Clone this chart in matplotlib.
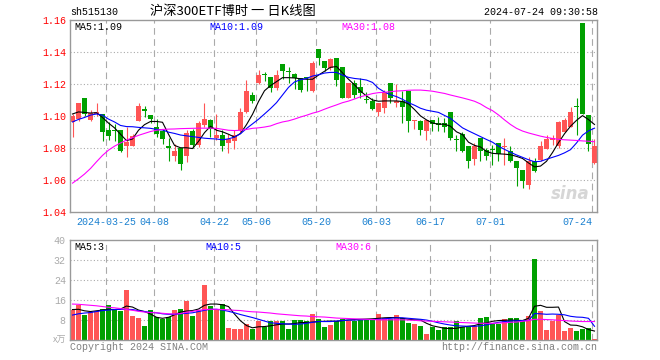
import numpy as np
import matplotlib
matplotlib.use('Agg')
import matplotlib.pyplot as plt

# trading days shown (MM-DD, 2024)
dates = ['03-15', '03-18', '03-19', '03-20', '03-21', '03-22', '03-25', '03-26', '03-27', '03-28',
         '03-29', '04-01', '04-02', '04-03', '04-08', '04-09', '04-10', '04-11', '04-12', '04-15',
         '04-16', '04-17', '04-18', '04-19', '04-22', '04-23', '04-24', '04-25', '04-26', '04-29',
         '04-30', '05-06', '05-07', '05-08', '05-09', '05-10', '05-13', '05-14', '05-15', '05-16',
         '05-17', '05-20', '05-21', '05-22', '05-23', '05-24', '05-27', '05-28', '05-29', '05-30',
         '05-31', '06-03', '06-04', '06-05', '06-06', '06-07', '06-11', '06-12', '06-13', '06-14',
         '06-17', '06-18', '06-19', '06-20', '06-21', '06-24', '06-25', '06-26', '06-27', '06-28',
         '07-01', '07-02', '07-03', '07-04', '07-05', '07-08', '07-09', '07-10', '07-11', '07-12',
         '07-15', '07-16', '07-17', '07-18', '07-19', '07-22', '07-23', '07-24']

opens = [1.096, 1.098, 1.111, 1.0975, 1.1012, 1.101, 1.091, 1.091, 1.091, 1.081,
         1.081, 1.097, 1.1043, 1.1006, 1.093, 1.0905, 1.081, 1.0746, 1.080, 1.0746,
         1.0906, 1.0815, 1.094, 1.0975, 1.086, 1.0881, 1.0829, 1.084, 1.091, 1.1025,
         1.113, 1.1204, 1.1262, 1.1246, 1.1173, 1.1325, 1.1281, 1.126, 1.1235, 1.1242,
         1.1156, 1.1423, 1.1344, 1.1298, 1.1365, 1.1308, 1.1115, 1.1204, 1.1183, 1.1102,
         1.1094, 1.1027, 1.1048, 1.1204, 1.1079, 1.1095, 1.1156, 1.0965, 1.0965, 1.0906,
         1.0973, 1.0954, 1.0954, 1.1023, 1.0856, 1.0885, 1.0812, 1.0729, 1.086, 1.0787,
         1.079, 1.0829, 1.0805, 1.0777, 1.0715, 1.0663, 1.0565, 1.0715, 1.0725, 1.0794,
         1.085, 1.0808, 1.0902, 1.0933, 1.106, 1.158, 1.1006, 1.0704]
highs = [1.101, 1.108, 1.1115, 1.104, 1.108, 1.101, 1.096, 1.095, 1.091, 1.093,
         1.0885, 1.108, 1.106, 1.1006, 1.098, 1.092, 1.086, 1.0825, 1.080, 1.091,
         1.092, 1.0965, 1.108, 1.098, 1.101, 1.091, 1.0885, 1.091, 1.105, 1.1225,
         1.1152, 1.129, 1.1278, 1.1246, 1.129, 1.1325, 1.1308, 1.1267, 1.1235, 1.1246,
         1.1344, 1.1423, 1.1344, 1.1365, 1.1365, 1.1308, 1.1208, 1.1225, 1.1235, 1.1152,
         1.1115, 1.108, 1.1162, 1.1204, 1.120, 1.1156, 1.1156, 1.0975, 1.0975, 1.0975,
         1.0973, 1.0996, 1.0985, 1.1023, 1.0881, 1.0896, 1.0812, 1.0829, 1.086, 1.0798,
         1.0819, 1.0829, 1.086, 1.0808, 1.0715, 1.0663, 1.074, 1.0735, 1.0844, 1.0877,
         1.0881, 1.0969, 1.0985, 1.1058, 1.111, 1.158, 1.1006, 1.0854]
lows = [1.087, 1.097, 1.100, 1.097, 1.100, 1.084, 1.085, 1.084, 1.0775, 1.074,
        1.081, 1.097, 1.099, 1.0956, 1.087, 1.0825, 1.072, 1.072, 1.066, 1.071,
        1.080, 1.0805, 1.093, 1.087, 1.085, 1.0777, 1.0765, 1.0795, 1.090, 1.102,
        1.108, 1.120, 1.1222, 1.115, 1.1165, 1.123, 1.1204, 1.117, 1.1152, 1.1156,
        1.115, 1.1319, 1.128, 1.129, 1.119, 1.111, 1.111, 1.111, 1.1115, 1.108,
        1.104, 1.1002, 1.1017, 1.1083, 1.1058, 1.0954, 1.0902, 1.0919, 1.0877, 1.085,
        1.0906, 1.0906, 1.0898, 1.085, 1.0777, 1.0773, 1.0673, 1.069, 1.0719, 1.0721,
        1.0694, 1.0715, 1.069, 1.0712, 1.0558, 1.0548, 1.054, 1.0646, 1.0715, 1.079,
        1.0815, 1.080, 1.0898, 1.093, 1.088, 1.101, 1.078, 1.070]
closes = [1.100, 1.108, 1.101, 1.102, 1.1025, 1.0898, 1.0875, 1.0905, 1.078, 1.0835,
          1.0875, 1.1065, 1.1028, 1.098, 1.0885, 1.0857, 1.0797, 1.0777, 1.0695, 1.089,
          1.0815, 1.0958, 1.098, 1.0919, 1.088, 1.0808, 1.0854, 1.088, 1.1025, 1.1158,
          1.1095, 1.1256, 1.1258, 1.1173, 1.1256, 1.128, 1.1277, 1.1235, 1.1162, 1.1238,
          1.1333, 1.1365, 1.1302, 1.1354, 1.1225, 1.1115, 1.1204, 1.1131, 1.1142, 1.1098,
          1.1044, 1.1079, 1.1152, 1.1115, 1.1095, 1.1058, 1.0965, 1.0973, 1.0912, 1.0973,
          1.0948, 1.0944, 1.0933, 1.086, 1.0846, 1.0781, 1.0715, 1.0812, 1.0781, 1.0746,
          1.0785, 1.076, 1.081, 1.0715, 1.0673, 1.0594, 1.0715, 1.0656, 1.0812, 1.0856,
          1.086, 1.096, 1.0973, 1.1027, 1.1055, 1.101, 1.0825, 1.0812]

ma5 = [1.1012, 1.1025, 1.1022, 1.1018, 1.102, 1.099, 1.0955, 1.0925, 1.0885, 1.0845,
       1.0855, 1.091, 1.0945, 1.0965, 1.0965, 1.096, 1.0885, 1.0815, 1.080, 1.080,
       1.0795, 1.084, 1.0895, 1.0935, 1.091, 1.090, 1.0885, 1.0867, 1.089, 1.0945,
       1.101, 1.109, 1.1158, 1.119, 1.1215, 1.124, 1.124, 1.1238, 1.1233, 1.123,
       1.123, 1.1256, 1.128, 1.1305, 1.131, 1.127, 1.123, 1.1195, 1.1155, 1.1125,
       1.110, 1.1092, 1.1094, 1.1094, 1.1094, 1.109, 1.1075, 1.104, 1.100, 1.0975,
       1.0955, 1.0948, 1.0948, 1.0935, 1.090, 1.0883, 1.0835, 1.0815, 1.0805, 1.0777,
       1.0765, 1.0762, 1.076, 1.0756, 1.0746, 1.0733, 1.0705, 1.068, 1.0685, 1.0715,
       1.077, 1.0832, 1.0888, 1.0935, 1.0972, 1.1002, 1.0977, 1.0946]
ma10 = [1.0962, 1.0978, 1.099, 1.1005, 1.1012, 1.1005, 1.098, 1.0962, 1.094, 1.0933,
        1.0932, 1.0928, 1.0925, 1.0922, 1.0915, 1.0912, 1.0898, 1.089, 1.088, 1.0875,
        1.087, 1.0865, 1.086, 1.0857, 1.0855, 1.085, 1.0856, 1.0867, 1.0888, 1.0921,
        1.095, 1.0979, 1.1012, 1.1046, 1.1083, 1.1131, 1.1179, 1.1213, 1.1227, 1.1235,
        1.125, 1.1258, 1.1269, 1.1273, 1.1273, 1.1256, 1.1242, 1.1235, 1.1231, 1.1225,
        1.121, 1.1173, 1.115, 1.1133, 1.1121, 1.1104, 1.1083, 1.1067, 1.1048, 1.1036,
        1.1029, 1.1022, 1.1003, 1.0984, 1.0955, 1.0925, 1.0906, 1.0888, 1.087, 1.0852,
        1.0835, 1.081, 1.079, 1.0772, 1.0755, 1.074, 1.0725, 1.0712, 1.0715, 1.0728,
        1.074, 1.0752, 1.0768, 1.0788, 1.083, 1.0879, 1.0906, 1.0923]
ma30 = [1.0578, 1.0605, 1.0635, 1.067, 1.0712, 1.0752, 1.0785, 1.081, 1.083, 1.0848,
        1.0863, 1.0878, 1.089, 1.0902, 1.091, 1.0915, 1.0917, 1.0918, 1.092, 1.0921,
        1.0922, 1.0923, 1.0923, 1.0923, 1.0922, 1.0916, 1.091, 1.0908, 1.091, 1.0915,
        1.0922, 1.0925, 1.093, 1.0937, 1.0951, 1.0962, 1.0969, 1.098, 1.0993, 1.1004,
        1.1017, 1.1027, 1.1042, 1.1056, 1.1069, 1.1083, 1.1093, 1.1106, 1.112, 1.113,
        1.114, 1.1146, 1.1148, 1.1152, 1.1156, 1.1158, 1.1161, 1.1162, 1.1162, 1.1159,
        1.1155, 1.1148, 1.1141, 1.1131, 1.1122, 1.1113, 1.1103, 1.1092, 1.1075, 1.1052,
        1.1033, 1.1006, 1.0975, 1.0946, 1.0922, 1.0905, 1.0893, 1.0883, 1.0873, 1.0865,
        1.0858, 1.0853, 1.085, 1.0848, 1.0846, 1.0843, 1.0841, 1.0838]

# volume, in 万
volumes = [12.1, 14.1, 10.1, 11.5, 11.7, 12.4, 14.1, 12.4, 11.9, 20.1,
           9.7, 9.1, 5.7, 12.1, 9.2, 8.4, 9.2, 12.1, 12.5, 15.7,
           9.7, 12.1, 22.1, 13.7, 12.7, 14.5, 5.1, 4.5, 4.5, 6.4,
           4.5, 7.9, 5.5, 7.9, 7.9, 7.7, 4.5, 8.1, 8.1, 7.7,
           10.5, 8.4, 5.5, 6.1, 7.9, 8.4, 7.9, 7.9, 8.4, 8.1,
           8.1, 10.5, 8.8, 8.4, 10.1, 8.8, 6.8, 6.5, 5.7, 2.5,
           5.5, 4.1, 5.2, 5.2, 7.7, 5.2, 5.7, 5.7, 9.1, 9.5,
           6.5, 6.4, 8.5, 9.1, 9.1, 7.7, 9.7, 32.5, 11.9, 4.1,
           7.9, 10.1, 3.7, 4.8, 3.7, 4.5, 4.8, 0.5]
vma5 = [12.3, 12.4, 11.8, 11.5, 11.8, 12.1, 12.4, 12.3, 12.5, 13.7,
        13.3, 12.1, 11.5, 10.5, 9.2, 8.8, 9.2, 10.2, 11.3, 11.7,
        11.9, 12.5, 14.0, 14.5, 14.5, 14.2, 13.5, 10.5, 7.8, 5.9,
        5.0, 5.4, 5.5, 5.8, 6.2, 6.5, 6.5, 6.7, 7.1, 7.1,
        7.3, 7.5, 7.6, 7.7, 7.6, 7.9, 8.1, 8.3, 8.4, 8.5,
        8.6, 8.8, 9.0, 9.1, 9.1, 8.8, 8.4, 8.2, 8.1, 6.8,
        5.8, 5.3, 4.8, 4.7, 4.8, 5.3, 5.6, 5.9, 6.6, 7.0,
        7.6, 7.9, 8.0, 8.1, 8.0, 7.9, 8.8, 13.6, 14.0, 13.2,
        13.2, 13.3, 7.5, 6.1, 6.0, 5.4, 4.3, 3.7]
vma10 = [10.1, 10.6, 10.9, 11.1, 11.5, 11.9, 12.1, 12.3, 12.4, 12.4,
         12.3, 11.8, 11.5, 11.2, 11.0, 10.6, 10.4, 10.4, 10.6, 10.8,
         11.0, 11.5, 12.0, 12.4, 12.4, 12.1, 11.6, 11.0, 10.3, 9.7,
         9.1, 8.4, 7.7, 7.0, 6.8, 6.6, 6.5, 6.4, 6.5, 6.8,
         7.2, 7.5, 7.5, 7.5, 7.7, 7.9, 8.1, 8.1, 8.2, 8.3,
         8.3, 8.4, 8.6, 8.8, 9.0, 9.0, 8.8, 8.6, 8.4, 8.1,
         7.6, 7.0, 6.5, 6.1, 5.8, 5.7, 5.6, 5.6, 5.8, 6.2,
         6.7, 7.2, 7.5, 7.7, 7.8, 7.9, 7.9, 10.7, 10.6, 10.4,
         10.5, 10.4, 10.2, 9.6, 9.3, 9.2, 8.8, 5.6]
vma30 = [14.5, 14.4, 14.2, 14.0, 13.8, 13.5, 13.2, 13.0, 12.7, 12.3,
         12.0, 11.6, 11.3, 11.1, 11.0, 10.8, 10.6, 10.5, 10.7, 11.2,
         11.6, 12.0, 12.3, 12.4, 12.4, 12.3, 12.2, 12.0, 11.9, 11.6,
         11.4, 11.3, 11.1, 10.9, 10.6, 10.4, 10.2, 10.0, 9.8, 9.7,
         9.5, 9.4, 9.3, 9.1, 8.9, 8.8, 8.7, 8.6, 8.5, 8.4,
         8.3, 8.2, 8.2, 8.2, 8.2, 8.2, 8.1, 8.0, 7.8, 7.7,
         7.6, 7.5, 7.4, 7.3, 7.2, 7.1, 7.0, 6.9, 6.8, 6.8,
         6.8, 6.9, 7.0, 7.2, 7.3, 7.6, 7.9, 8.4, 8.4, 8.3,
         8.2, 8.0, 7.9, 7.7, 7.6, 7.5, 7.5, 7.5]

tick_dates = ['03-25', '04-08', '04-22', '05-06', '05-20', '06-03', '06-17', '07-01', '07-24']
tick_labels = ['2024-03-25', '04-08', '04-22', '05-06', '05-20', '06-03', '06-17', '07-01', '07-24']
price_ticks = [1.04, 1.06, 1.08, 1.10, 1.12, 1.14, 1.16]
vol_ticks = [8, 16, 24, 32, 40]

RED = '#ff5555'
GREEN = '#00a000'
FRAME = '#999999'
GRID = '#aaaaaa'
DATE_BLUE = '#1a80d0'
MONO = 'Liberation Mono'
CJK = ['Noto Sans CJK SC', 'DejaVu Sans']

W, H = 660, 360
fig = plt.figure(figsize=(W / 100, H / 100), dpi=100)
fig.patch.set_facecolor('white')


def px_axes(x0, y0, x1, y1):
    return fig.add_axes([x0 / W, 1 - y1 / H, (x1 - x0) / W, (y1 - y0) / H])


def put(xp, yp, s, **kw):
    kw.setdefault('family', MONO)
    kw.setdefault('fontsize', 7.2)
    kw.setdefault('va', 'center')
    fig.text(xp / W, 1 - yp / H, s, **kw)


ax = px_axes(70, 20.3, 597, 211.5)
axv = px_axes(70, 240.3, 597, 340.3)

x = np.arange(len(dates))
o, hi, lo, c = (np.array(a) for a in (opens, highs, lows, closes))
colors = np.where(c >= o, RED, GREEN)
half = 2.5 / 6  # gridline sits at the left edge of the candle
grid_x = [dates.index(d) - half for d in tick_dates]

for a in (ax, axv):
    a.set_xlim(-half, len(dates) - 1 + (597 - 72.5 - 6 * (len(dates) - 1)) / 6)
    for s in a.spines.values():
        s.set_color(FRAME)
        s.set_linewidth(1.0)
    for gx in grid_x:
        a.axvline(gx, color=GRID, lw=0.8, ls=(0, (6, 4)), zorder=0)
    a.tick_params(length=0)

# price panel
ax.set_ylim(1.04, 1.16)
for yv in price_ticks[1:-1]:
    ax.axhline(yv, color=GRID, lw=0.8, ls=(0, (1, 2)), zorder=0)
ax.vlines(x, lo, hi, colors=colors, lw=0.8, zorder=2)
ax.bar(x, np.maximum(np.abs(c - o), 0.0007), bottom=np.minimum(o, c),
       width=0.8, color=colors, linewidth=0, zorder=2)
ax.plot(x, ma5, color='black', lw=0.8, zorder=3)
ax.plot(x, ma10, color='#0000ff', lw=0.8, zorder=3)
ax.plot(x, ma30, color='#ff00ff', lw=0.8, zorder=3)
ax.set_yticks(price_ticks)
ax.set_yticklabels(['%.2f' % v for v in price_ticks], family=MONO, fontsize=7.2, color='red')
ax.tick_params(axis='y', pad=3)
ax.set_xticks(grid_x)
ax.set_xticklabels(tick_labels, family=MONO, fontsize=7.2, color=DATE_BLUE)
ax.get_xticklabels()[-1].set_ha('right')
ax.tick_params(axis='x', pad=4)
ax.text(0.985, 0.045, 'sina', transform=ax.transAxes, ha='right', va='bottom',
        fontsize=12, fontweight='bold', style='italic', color='#d6d6d6', zorder=1)

# volume panel
axv.set_ylim(0, 40)
for yv in vol_ticks[:-1]:
    axv.axhline(yv, color=GRID, lw=0.8, ls=(0, (1, 2)), zorder=0)
axv.bar(x, volumes, width=0.8, color=colors, linewidth=0, zorder=2)
axv.plot(x, vma5, color='black', lw=0.8, zorder=3)
axv.plot(x, vma10, color='#0000ff', lw=0.8, zorder=3)
axv.plot(x, vma30, color='#ff00ff', lw=0.8, zorder=3)
axv.set_yticks(vol_ticks)
axv.set_yticklabels([str(v) for v in vol_ticks], family=MONO, fontsize=7.2, color='#aaaaaa')
axv.tick_params(axis='y', pad=3)
axv.set_xticks([])

# header, legends, footer
put(70, 12, 'sh515130')
put(233, 12, '沪深300ETF博时 一 日K线图', family=CJK, fontsize=9.5, ha='center')
put(598, 12, '2024-07-24 09:30:58', ha='right')
put(74, 27.5, 'MA5:1.09', color='black')
put(209, 27.5, 'MA10:1.09', color='#0000ff')
put(341, 27.5, 'MA30:1.08', color='#ff00ff')
put(74, 246.5, 'MA5:3', color='black')
put(205, 246.5, 'MA10:5', color='#0000ff')
put(335, 246.5, 'MA30:6', color='#ff00ff')
put(66, 340, 'x万', family=CJK, fontsize=6.5, color='#aaaaaa', ha='right')
put(70, 346.5, 'Copyright 2024 SINA.COM', color='#808080')
put(597, 346.5, 'http://finance.sina.com.cn', color='#808080', ha='right')

fig.savefig('out.png', dpi=100, facecolor='white')
